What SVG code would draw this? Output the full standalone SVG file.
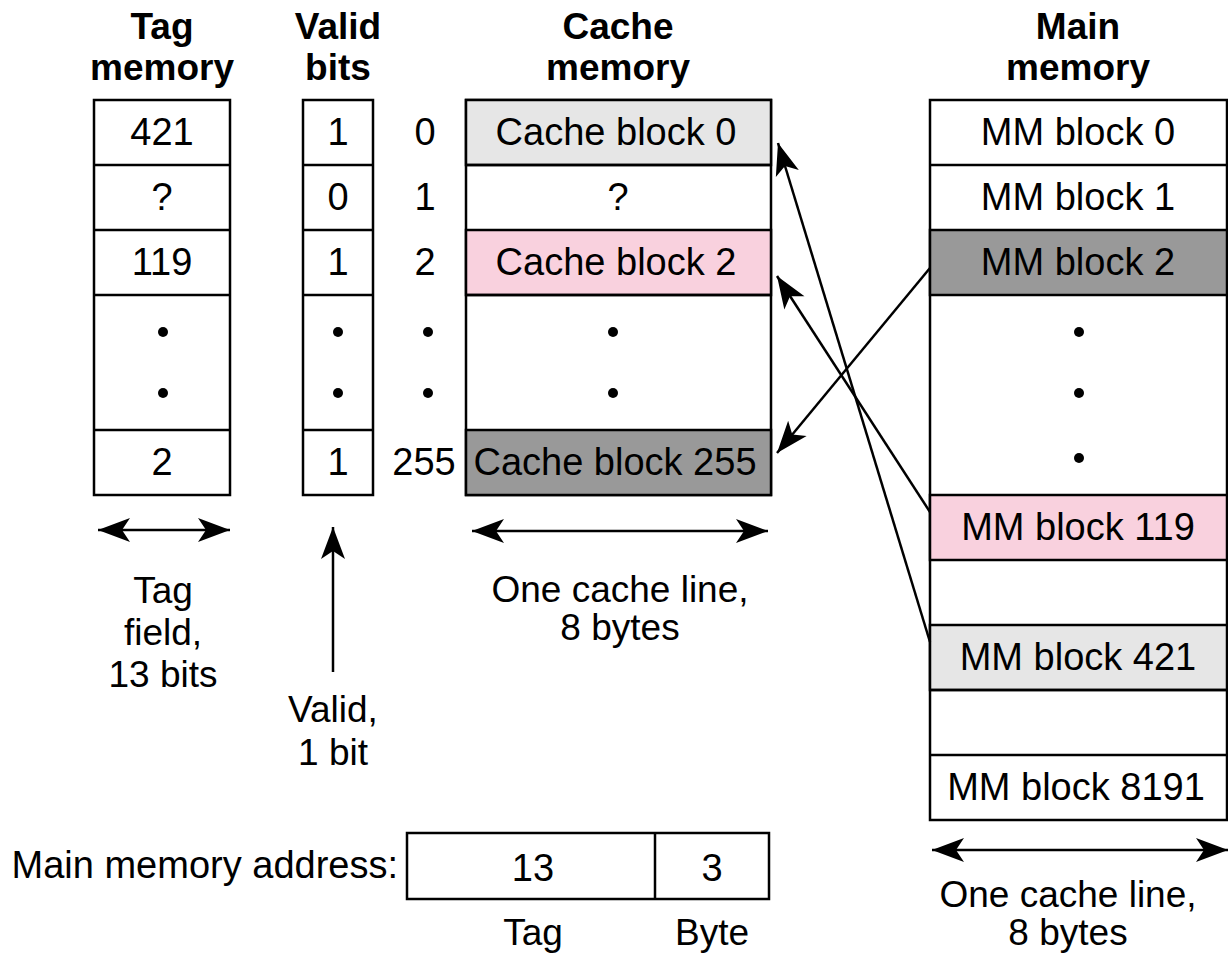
<svg xmlns="http://www.w3.org/2000/svg" width="1228" height="957" viewBox="0 0 1228 957">
<style>
text{font-family:"Liberation Sans",Arial,sans-serif;fill:#000;text-anchor:middle}
.t{font-size:38px}
.l{font-size:37px}
.h{font-size:37px;font-weight:bold}
.box{fill:#fff;stroke:#000;stroke-width:2.5}
.lg{fill:#e6e6e6}
.pk{fill:#f9d1de}
.dg{fill:#999999}
.ln{stroke:#000;stroke-width:2.5;fill:none}
.arr{marker-end:url(#ah)}
.dbl{marker-end:url(#ah);marker-start:url(#ah)}
</style>
<defs>
<marker id="ah" markerUnits="userSpaceOnUse" viewBox="-33 -13 34 26" refX="0" refY="0" markerWidth="34" markerHeight="26" orient="auto-start-reverse">
<path d="M0,0 L-32,-12 L-24,0 L-32,12 Z" fill="#000"/>
</marker>
<circle id="dot" r="5" fill="#000"/>
</defs>
<rect width="1228" height="957" fill="#fff"/>

<g id="headers">
<text class="h" x="162" y="39">Tag</text>
<text class="h" x="162" y="80">memory</text>
<text class="h" x="338" y="39">Valid</text>
<text class="h" x="338" y="80">bits</text>
<text class="h" x="618" y="39">Cache</text>
<text class="h" x="618" y="80">memory</text>
<text class="h" x="1078" y="39">Main</text>
<text class="h" x="1078" y="80">memory</text>
</g>

<g id="tag-memory">
<rect class="box" x="94" y="100" width="136" height="395"/>
<line class="ln" x1="94" y1="165" x2="230" y2="165"/>
<line class="ln" x1="94" y1="230" x2="230" y2="230"/>
<line class="ln" x1="94" y1="295" x2="230" y2="295"/>
<line class="ln" x1="94" y1="430" x2="230" y2="430"/>
<text class="t" x="162" y="145">421</text>
<text class="t" x="162" y="210">?</text>
<text class="t" x="162" y="275">119</text>
<use href="#dot" x="163" y="332"/>
<use href="#dot" x="163" y="393"/>
<text class="t" x="162" y="475">2</text>
</g>

<g id="valid-bits">
<rect class="box" x="303" y="100" width="70" height="395"/>
<line class="ln" x1="303" y1="165" x2="373" y2="165"/>
<line class="ln" x1="303" y1="230" x2="373" y2="230"/>
<line class="ln" x1="303" y1="295" x2="373" y2="295"/>
<line class="ln" x1="303" y1="430" x2="373" y2="430"/>
<text class="t" x="338" y="145">1</text>
<text class="t" x="338" y="210">0</text>
<text class="t" x="338" y="275">1</text>
<use href="#dot" x="338" y="332"/>
<use href="#dot" x="338" y="393"/>
<text class="t" x="338" y="475">1</text>
</g>

<g id="index">
<text class="t" x="425" y="145">0</text>
<text class="t" x="425" y="210">1</text>
<text class="t" x="425" y="275">2</text>
<use href="#dot" x="428" y="332"/>
<use href="#dot" x="428" y="393"/>
<text class="t" x="424" y="475">255</text>
</g>

<g id="cache-memory">
<rect class="box" x="466" y="100" width="305" height="395"/>
<rect class="box lg" x="466" y="100" width="305" height="65"/>
<rect class="box pk" x="466" y="230" width="305" height="65"/>
<rect class="box dg" x="466" y="430" width="305" height="65"/>
<line class="ln" x1="466" y1="165" x2="771" y2="165"/>
<line class="ln" x1="466" y1="295" x2="771" y2="295"/>
<text class="t" x="616" y="145">Cache block 0</text>
<text class="t" x="618" y="210">?</text>
<text class="t" x="616" y="275">Cache block 2</text>
<use href="#dot" x="613" y="332"/>
<use href="#dot" x="613" y="393"/>
<text class="t" x="615" y="475">Cache block 255</text>
</g>

<g id="main-memory">
<rect class="box" x="930" y="100" width="297" height="720"/>
<rect class="box dg" x="930" y="230" width="297" height="65"/>
<rect class="box pk" x="930" y="495" width="297" height="65"/>
<rect class="box lg" x="930" y="625" width="297" height="65"/>
<line class="ln" x1="930" y1="165" x2="1227" y2="165"/>
<line class="ln" x1="930" y1="690" x2="1227" y2="690"/>
<line class="ln" x1="930" y1="755" x2="1227" y2="755"/>
<text class="t" x="1078" y="145">MM block 0</text>
<text class="t" x="1078" y="210">MM block 1</text>
<text class="t" x="1078" y="275">MM block 2</text>
<use href="#dot" x="1079" y="332"/>
<use href="#dot" x="1079" y="393"/>
<use href="#dot" x="1079" y="458"/>
<text class="t" x="1078" y="540">MM block 119</text>
<text class="t" x="1078" y="670">MM block 421</text>
<text class="t" x="1076" y="800">MM block 8191</text>
</g>

<g id="connectors">
<line class="ln arr" x1="930" y1="642" x2="778" y2="143"/>
<line class="ln arr" x1="930" y1="512" x2="777" y2="276"/>
<line class="ln arr" x1="930" y1="268" x2="777" y2="453"/>
<line class="ln dbl" x1="98" y1="530" x2="230" y2="530"/>
<line class="ln arr" x1="333" y1="672" x2="333" y2="527"/>
<line class="ln dbl" x1="472" y1="531" x2="768" y2="531"/>
<line class="ln dbl" x1="932" y1="850" x2="1228" y2="850"/>
</g>

<g id="labels">
<text class="l" x="163" y="603">Tag</text>
<text class="l" x="163" y="645">field,</text>
<text class="l" x="163" y="687">13 bits</text>
<text class="l" x="333" y="722">Valid,</text>
<text class="l" x="333" y="765">1 bit</text>
<text class="l" x="620" y="602">One cache line,</text>
<text class="l" x="620" y="640">8 bytes</text>
<text class="l" x="1068" y="907">One cache line,</text>
<text class="l" x="1068" y="945">8 bytes</text>
</g>

<g id="address">
<text class="t" x="398" y="878" style="text-anchor:end">Main memory address:</text>
<rect class="box" x="407" y="833" width="362" height="66"/>
<line class="ln" x1="655" y1="833" x2="655" y2="899"/>
<text class="t" x="533" y="881">13</text>
<text class="t" x="712" y="881">3</text>
<text class="l" x="533" y="945">Tag</text>
<text class="l" x="712" y="945">Byte</text>
</g>
</svg>
